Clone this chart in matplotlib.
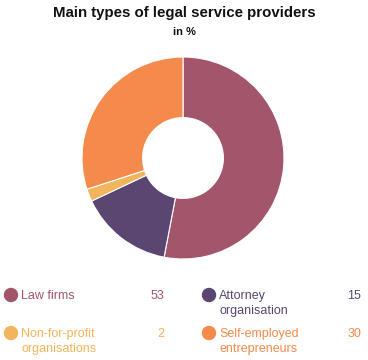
import matplotlib
matplotlib.use('Agg')
import matplotlib.pyplot as plt

labels = ['Law firms', 'Attorney\norganisation', 'Non-for-profit\norganisations', 'Self-employed\nentrepreneurs']
values = [53, 15, 2, 30]
colors = ['#a3566b', '#5a4670', '#f2b45c', '#f48a4b']

plt.rcParams['font.family'] = ['Liberation Sans', 'DejaVu Sans']

W, H = 368, 360
fig = plt.figure(figsize=(W / 100, H / 100), dpi=100)

# donut
cx, cy, r = 183, 158, 101
ax = fig.add_axes([(cx - r) / W, 1 - (cy + r) / H, 2 * r / W, 2 * r / H])
ax.pie(values, colors=colors, startangle=90, counterclock=False, radius=1,
       wedgeprops=dict(width=0.6, edgecolor='white', linewidth=0.8))
ax.set_xlim(-1, 1)
ax.set_ylim(-1, 1)
ax.axis('off')

# titles
fig.text(0.5, 1 - 13 / H, 'Main types of legal service providers', ha='center', va='center',
         fontsize=10.8, fontweight='bold', color='#111111')
fig.text(0.5, 1 - 32 / H, 'in %', ha='center', va='center',
         fontsize=8, fontweight='bold', color='#111111')

# legend
pos = [(11, 295), (209, 295), (11, 333), (209, 333)]
val_x = [164, 361, 164, 361]
for i, (lab, v, c) in enumerate(zip(labels, values, colors)):
    x, y = pos[i]
    fig.patches.append(matplotlib.patches.Ellipse((x / W, 1 - y / H), 13 / W, 13 / H,
                                                  transform=fig.transFigure, color=c))
    fig.text((x + 10) / W, 1 - (y - 5) / H, lab, ha='left', va='top', fontsize=9,
             color=c, linespacing=1.3)
    fig.text(val_x[i] / W, 1 - (y - 5) / H, str(v), ha='right', va='top', fontsize=9, color=c)

fig.savefig('out.png', dpi=100)
